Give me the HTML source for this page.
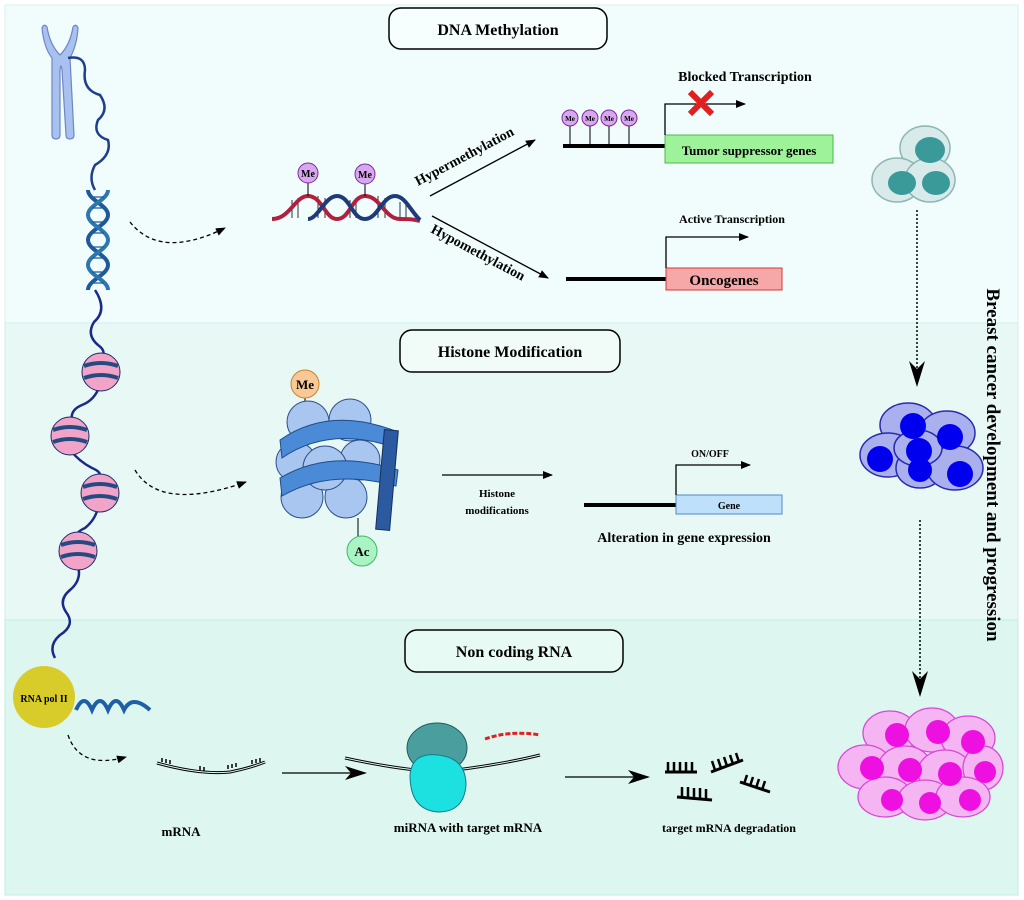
<!DOCTYPE html>
<html><head><meta charset="utf-8"><style>
body{margin:0;background:#fff;}
svg{display:block;font-family:"Liberation Serif",serif;}
</style></head><body>
<svg width="1024" height="900" viewBox="0 0 1024 900" xmlns="http://www.w3.org/2000/svg">
<defs>
<marker id="ah" markerWidth="10" markerHeight="8" refX="9" refY="4" orient="auto" markerUnits="userSpaceOnUse"><path d="M0,0L10,4L0,8z" fill="#000"/></marker>
<marker id="ahb" markerWidth="22" markerHeight="14" refX="20" refY="7" orient="auto" markerUnits="userSpaceOnUse"><path d="M0,0L22,7L0,14L6,7z" fill="#000"/></marker>
<marker id="ahd" markerWidth="16" markerHeight="26" refX="8" refY="24" orient="0" markerUnits="userSpaceOnUse"><path d="M0,0L8,26L16,0L8,8z" fill="#000"/></marker>
</defs>
<rect x="0" y="0" width="1024" height="900" fill="#fff"/>
<rect x="5" y="5" width="1013" height="318" fill="#f0fdfc" stroke="#d4f3ee"/>
<rect x="5" y="323" width="1013" height="297" fill="#e8f9f5" stroke="#cdf0ea"/>
<rect x="5" y="620" width="1013" height="275" fill="#ddf6ef" stroke="#bfeee4"/>

<!-- chromosome -->
<path d="M42,28 Q44,48 52,58 L52,135 Q52,139 56,139 Q60,139 60,135 L60,70 Q61,62 62,70 L66,135 Q66,139 70,139 Q74,139 74,135 L70,58 Q77,45 78,28 Q76,23 73,27 Q70,45 60,55 Q50,45 47,27 Q44,23 42,28z" fill="#a9c1ee" stroke="#6d86c7" stroke-width="1.2"/>
<!-- strand -->
<path d="M68,58 Q85,55 85,70 Q82,90 100,95 Q110,110 98,120 Q92,135 108,140 Q112,155 95,165 Q88,178 95,190" fill="none" stroke="#1d3f8c" stroke-width="2.5"/>
<path d="M88,190 C88,200 108,205 108,215 C108,225 88,230 88,240 C88,250 108,255 108,265 C108,275 88,280 88,290" fill="none" stroke="#1e5a9a" stroke-width="4"/>
<path d="M108,190 C108,200 88,205 88,215 C88,225 108,230 108,240 C108,250 88,255 88,265 C88,275 108,280 108,290" fill="none" stroke="#2c77b0" stroke-width="4"/>
<g stroke="#1e5a9a" stroke-width="1.2"><path d="M92,197h12M92,208h12M92,222h12M92,233h12M92,247h12M92,258h12M92,272h12M92,283h12"/></g>
<path d="M95,290 Q108,310 94,322 Q86,335 98,345 Q108,352 100,360" fill="none" stroke="#1a2a8a" stroke-width="2.5"/>
<path d="M100,385 Q95,400 82,405 Q70,410 72,420 M70,450 Q80,462 92,468 Q102,472 100,478 M98,508 Q95,520 85,528 Q74,533 78,538 M78,566 Q82,580 70,590 Q58,600 66,612 Q76,625 60,635 Q48,645 55,658" fill="none" stroke="#1a2a8a" stroke-width="2.5"/>
<g stroke="#1a2a6a" stroke-width="1">
<circle cx="101" cy="372" r="19" fill="#f2a3c8"/><circle cx="70" cy="436" r="19" fill="#f2a3c8"/><circle cx="100" cy="493" r="19" fill="#f2a3c8"/><circle cx="78" cy="551" r="19" fill="#f2a3c8"/>
</g>
<g fill="none" stroke="#234b82" stroke-width="4">
<path d="M84,366 Q101,360 118,366 M84,378 Q101,372 118,378 M53,430 Q70,424 87,430 M53,442 Q70,436 87,442 M83,487 Q100,481 117,487 M83,499 Q100,493 117,499 M61,545 Q78,539 95,545 M61,557 Q78,551 95,557"/>
</g>
<!-- RNA pol II -->
<circle cx="44" cy="697" r="31" fill="#d8cc2a"/>
<text x="44" y="702" font-size="10" font-weight="bold" text-anchor="middle">RNA pol II</text>
<path d="M76,710 Q84,692 92,710 Q100,692 108,710 Q116,692 124,710 Q132,694 150,710" fill="none" stroke="#1e5fa8" stroke-width="4"/>

<!-- dashed arrows left -->
<path d="M130,222 Q160,260 225,228" fill="none" stroke="#000" stroke-width="1.3" stroke-dasharray="4,3" marker-end="url(#ah)"/>
<path d="M135,470 Q160,512 246,482" fill="none" stroke="#000" stroke-width="1.3" stroke-dasharray="4,3" marker-end="url(#ah)"/>
<path d="M68,735 Q80,770 126,757" fill="none" stroke="#000" stroke-width="1.3" stroke-dasharray="4,3" marker-end="url(#ah)"/>

<!-- titles -->
<g font-weight="bold" font-size="16" text-anchor="middle">
<rect x="389" y="8" width="218" height="41" rx="12" fill="#f7fefe" stroke="#000" stroke-width="1.5"/>
<text x="498" y="35">DNA Methylation</text>
<rect x="400" y="330" width="220" height="42" rx="12" fill="#f1fcf9" stroke="#000" stroke-width="1.5"/>
<text x="510" y="357">Histone Modification</text>
<rect x="405" y="630" width="218" height="42" rx="12" fill="#e8faf4" stroke="#000" stroke-width="1.5"/>
<text x="514" y="657">Non coding RNA</text>
</g>

<!-- methylated DNA -->
<g stroke="#000" stroke-width="0.8"><path d="M292,200v18M298,198v20M318,196v22M325,198v20M350,200v18M356,198v20M378,196v22M385,198v20M400,202v16M406,205v13"/></g>
<path d="M272,219 C290,219 295,196 308,196 C322,196 325,219 337,219 C350,219 352,196 365,196 C380,196 385,219 400,219 C408,219 413,219 420,221" fill="none" stroke="#b0213f" stroke-width="4"/>
<path d="M285,205 C292,198 298,196 304,196 C318,196 322,219 336,219 C350,219 350,196 365,196 C378,196 382,200 392,196 C405,196 408,216 420,220" fill="none" stroke="#1e3a7a" stroke-width="4" opacity="0"/>
<path d="M308,219 C318,219 325,196 337,196 C350,196 352,219 365,219 C378,219 382,196 395,196 C405,196 410,210 420,220" fill="none" stroke="#1e3a7a" stroke-width="4"/>
<line x1="308" y1="182" x2="308" y2="196" stroke="#000"/><line x1="365" y1="183" x2="365" y2="196" stroke="#000"/>
<circle cx="308" cy="173" r="10" fill="#d9a6f0" stroke="#7a2a9a"/><circle cx="365" cy="174" r="10" fill="#d9a6f0" stroke="#7a2a9a"/>
<text x="308" y="177" font-size="10" font-weight="bold" text-anchor="middle">Me</text><text x="365" y="178" font-size="10" font-weight="bold" text-anchor="middle">Me</text>

<line x1="430" y1="196" x2="535" y2="140" stroke="#000" stroke-width="1.3" marker-end="url(#ah)"/>
<line x1="432" y1="216" x2="548" y2="278" stroke="#000" stroke-width="1.3" marker-end="url(#ah)"/>
<text font-size="14" font-weight="bold" transform="translate(418,186) rotate(-28)">Hypermethylation</text>
<text font-size="14" font-weight="bold" transform="translate(430,232) rotate(28)">Hypomethylation</text>

<!-- Blocked transcription -->
<line x1="563" y1="146" x2="665" y2="146" stroke="#000" stroke-width="4"/>
<g stroke="#000"><line x1="570" y1="124" x2="570" y2="146"/><line x1="590" y1="124" x2="590" y2="146"/><line x1="609" y1="124" x2="609" y2="146"/><line x1="629" y1="124" x2="629" y2="146"/></g>
<g fill="#d9a6f0" stroke="#7a2a9a"><circle cx="570" cy="118" r="8"/><circle cx="590" cy="118" r="8"/><circle cx="609" cy="118" r="8"/><circle cx="629" cy="118" r="8"/></g>
<g font-size="7" font-weight="bold" text-anchor="middle"><text x="570" y="121">Me</text><text x="590" y="121">Me</text><text x="609" y="121">Me</text><text x="629" y="121">Me</text></g>
<rect x="665" y="135" width="168" height="28" fill="#9ef29a" stroke="#4fb84b"/>
<text x="749" y="155" font-size="13" font-weight="bold" text-anchor="middle">Tumor suppressor genes</text>
<path d="M665,135 L665,104 L745,104" fill="none" stroke="#000" stroke-width="1.3" marker-end="url(#ah)"/>
<path d="M690,92 L712,114 M712,92 L690,114" stroke="#e02020" stroke-width="6"/>
<text x="745" y="81" font-size="14" font-weight="bold" text-anchor="middle">Blocked Transcription</text>
<!-- oncogenes -->
<line x1="566" y1="279" x2="666" y2="279" stroke="#000" stroke-width="4"/>
<rect x="666" y="268" width="116" height="22" fill="#f6a7a7" stroke="#d23a3a"/>
<text x="724" y="285" font-size="15" font-weight="bold" text-anchor="middle">Oncogenes</text>
<path d="M666,268 L666,237 L748,237" fill="none" stroke="#000" stroke-width="1.3" marker-end="url(#ah)"/>
<text x="732" y="223" font-size="12" font-weight="bold" text-anchor="middle">Active Transcription</text>

<!-- histone -->
<line x1="305" y1="374" x2="305" y2="402" stroke="#000"/>
<circle cx="305" cy="384" r="14" fill="#f8c996" stroke="#c9832f"/>
<text x="305" y="389" font-size="13" font-weight="bold" text-anchor="middle">Me</text>
<g fill="#a9c6f0" stroke="#2a4f8a">
<circle cx="308" cy="422" r="21"/><circle cx="350" cy="420" r="21"/><circle cx="302" cy="497" r="21"/><circle cx="346" cy="497" r="21"/>
<circle cx="296" cy="462" r="20"/><circle cx="360" cy="460" r="20"/><circle cx="325" cy="468" r="22"/>
</g>
<path d="M280,440 Q330,405 398,432 L396,448 Q330,425 282,458z" fill="#4a8ad6" stroke="#1f4c8a"/>
<path d="M280,478 Q330,448 398,470 L396,486 Q330,468 282,496z" fill="#4a8ad6" stroke="#1f4c8a"/>
<rect x="380" y="430" width="14" height="100" fill="#2b5aa0" stroke="#15305e" transform="rotate(5 387 480)"/>
<line x1="358" y1="518" x2="358" y2="538" stroke="#000"/>
<circle cx="362" cy="551" r="15" fill="#a9f4c2" stroke="#3ab86a"/>
<text x="362" y="556" font-size="13" font-weight="bold" text-anchor="middle">Ac</text>
<line x1="442" y1="475" x2="552" y2="475" stroke="#000" stroke-width="1.3" marker-end="url(#ah)"/>
<text x="497" y="497" font-size="11" font-weight="bold" text-anchor="middle">Histone</text>
<text x="497" y="514" font-size="11" font-weight="bold" text-anchor="middle">modifications</text>
<line x1="584" y1="505" x2="676" y2="505" stroke="#000" stroke-width="4"/>
<rect x="676" y="495" width="106" height="19" fill="#bfe0fa" stroke="#4a8ad0"/>
<text x="729" y="509" font-size="10" font-weight="bold" text-anchor="middle">Gene</text>
<path d="M676,495 L676,465 L750,465" fill="none" stroke="#000" stroke-width="1.3" marker-end="url(#ah)"/>
<text x="710" y="457" font-size="10" font-weight="bold" text-anchor="middle">ON/OFF</text>
<text x="684" y="542" font-size="14" font-weight="bold" text-anchor="middle">Alteration in gene expression</text>

<!-- ncRNA -->
<path d="M157,763 Q200,775 230,772 Q250,768 265,762" fill="none" stroke="#000" stroke-width="3"/>
<path d="M157,763 Q200,775 230,772 Q250,768 265,762" fill="none" stroke="#ddf6ef" stroke-width="1"/>
<g stroke="#000" stroke-width="1.5"><path d="M162,762v-4M166,763v-4M170,764v-4M200,770v-4M204,771v-4M228,769v-4M232,768v-4M236,767v-4M252,764v-4M256,763v-4M260,762v-4"/></g>
<text x="181" y="836" font-size="13" font-weight="bold" text-anchor="middle">mRNA</text>
<line x1="282" y1="773" x2="365" y2="773" stroke="#000" stroke-width="1.3" marker-end="url(#ahb)"/>
<path d="M345,758 Q400,770 440,772 Q500,765 540,755" fill="none" stroke="#000" stroke-width="3"/>
<path d="M345,758 Q400,770 440,772 Q500,765 540,755" fill="none" stroke="#ddf6ef" stroke-width="1"/>
<ellipse cx="437" cy="748" rx="30" ry="25" fill="#4a9e9e" stroke="#1f5d5d"/>
<path d="M410,775 Q412,752 438,755 Q466,758 466,785 Q464,812 438,812 Q410,810 410,775z" fill="#1de0e0" stroke="#0f7d8a"/>
<path d="M485,739 Q510,730 540,735" fill="none" stroke="#e02020" stroke-width="3" stroke-dasharray="5,2"/>
<text x="468" y="832" font-size="13" font-weight="bold" text-anchor="middle">miRNA with target mRNA</text>
<line x1="565" y1="777" x2="648" y2="777" stroke="#000" stroke-width="1.3" marker-end="url(#ahb)"/>
<g stroke="#000" stroke-width="3"><line x1="665" y1="772" x2="697" y2="772"/><line x1="711" y1="772" x2="743" y2="760"/><line x1="740" y1="782" x2="770" y2="792"/><line x1="677" y1="797" x2="712" y2="800"/></g>
<g stroke="#000" stroke-width="2.5"><path d="M668,772v-10M674,772v-10M680,772v-10M686,772v-10M692,772v-10M715,770l-3,-9M721,768l-3,-9M727,766l-3,-9M733,764l-3,-9M739,762l-3,-9M744,784l3,-9M750,786l3,-9M756,788l3,-9M762,790l3,-9M682,797v-10M688,797v-10M694,798v-10M700,798v-10M706,799v-10"/></g>
<text x="729" y="832" font-size="12" font-weight="bold" text-anchor="middle">target mRNA degradation</text>

<!-- cells -->
<g stroke="#8fb5b5" stroke-width="1.5" fill="#d8ebea">
<ellipse cx="925" cy="148" rx="25" ry="22"/><ellipse cx="897" cy="180" rx="25" ry="22"/><ellipse cx="930" cy="180" rx="25" ry="22"/>
</g>
<g fill="#3a9a9a"><ellipse cx="930" cy="150" rx="15" ry="13"/><ellipse cx="902" cy="183" rx="14" ry="12"/><ellipse cx="936" cy="183" rx="14" ry="12"/></g>
<line x1="917" y1="210" x2="917" y2="385" stroke="#000" stroke-width="1.5" stroke-dasharray="2,2" marker-end="url(#ahd)"/>
<g stroke="#2a2ab0" stroke-width="1.5" fill="#aab0ee">
<ellipse cx="908" cy="425" rx="28" ry="22"/><ellipse cx="947" cy="433" rx="28" ry="22"/><ellipse cx="888" cy="455" rx="28" ry="22"/><ellipse cx="920" cy="468" rx="24" ry="20"/><ellipse cx="955" cy="468" rx="28" ry="22"/><ellipse cx="918" cy="448" rx="24" ry="18"/>
</g>
<g fill="#0000ee"><circle cx="913" cy="426" r="13"/><circle cx="950" cy="437" r="13"/><circle cx="880" cy="459" r="13"/><circle cx="920" cy="470" r="12"/><circle cx="960" cy="474" r="13"/><circle cx="919" cy="451" r="13"/></g>
<line x1="920" y1="520" x2="920" y2="695" stroke="#000" stroke-width="1.5" stroke-dasharray="2,2" marker-end="url(#ahd)"/>
<g stroke="#d64ad6" stroke-width="1.3" fill="#f5b5f2">
<ellipse cx="890" cy="733" rx="27" ry="22"/><ellipse cx="932" cy="730" rx="27" ry="22"/><ellipse cx="968" cy="738" rx="27" ry="22"/>
<ellipse cx="865" cy="767" rx="27" ry="22"/><ellipse cx="905" cy="768" rx="27" ry="22"/><ellipse cx="945" cy="772" rx="27" ry="22"/><ellipse cx="983" cy="768" rx="20" ry="22"/>
<ellipse cx="885" cy="797" rx="27" ry="20"/><ellipse cx="925" cy="800" rx="27" ry="20"/><ellipse cx="963" cy="797" rx="27" ry="20"/>
</g>
<g fill="#ee10e0"><circle cx="897" cy="735" r="12"/><circle cx="938" cy="732" r="12"/><circle cx="973" cy="742" r="12"/><circle cx="872" cy="768" r="12"/><circle cx="910" cy="770" r="12"/><circle cx="950" cy="774" r="12"/><circle cx="985" cy="772" r="11"/><circle cx="892" cy="800" r="11"/><circle cx="930" cy="803" r="11"/><circle cx="970" cy="800" r="11"/></g>

<text font-size="19" font-weight="bold" text-anchor="middle" transform="translate(987,465) rotate(90)">Breast cancer development and progression</text>
</svg>
</body></html>
